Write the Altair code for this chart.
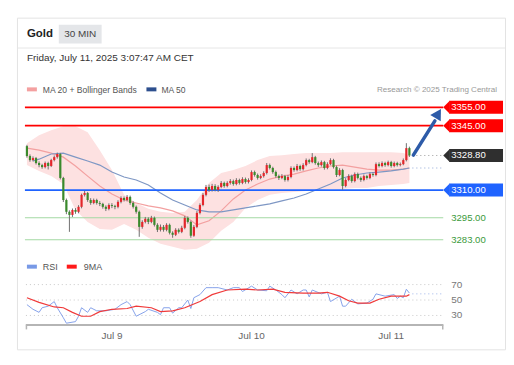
import altair as alt
import pandas as pd

# ---------------- data ----------------
first_open = 3333.9
close = [3328.5,3326.3,3327.4,3324.7,3323.6,3322.5,3324.7,3323.1,3326.3,3327.9,
 3329.6,3316.6,3304.6,3298.2,3296.5,3299.2,3298.2,3300.9,3307.4,3308.4,
 3304.6,3303.0,3304.6,3303.0,3302.5,3300.9,3299.8,3301.9,3301.4,3300.9,
 3303.6,3305.7,3304.6,3306.3,3303.0,3300.9,3298.2,3290.0,3292.7,3294.4,
 3292.7,3294.9,3291.1,3288.4,3290.0,3288.4,3291.1,3286.8,3285.7,3288.4,
 3287.3,3289.5,3294.9,3292.7,3285.2,3290.0,3297.6,3301.9,3307.4,3311.7,
 3310.1,3312.2,3310.1,3311.7,3313.9,3312.2,3313.9,3314.9,3313.3,3315.5,
 3313.9,3316.0,3314.4,3315.5,3319.8,3318.2,3316.6,3317.6,3319.3,3323.6,
 3322.0,3319.8,3317.6,3316.6,3317.6,3315.5,3317.1,3322.0,3320.9,3323.1,
 3321.4,3323.6,3326.3,3325.2,3327.9,3324.7,3323.6,3325.2,3322.0,3324.1,
 3326.3,3322.5,3318.2,3320.9,3312.2,3315.5,3317.6,3314.9,3318.7,3316.6,
 3315.5,3317.6,3316.6,3318.7,3318.2,3324.1,3323.1,3324.7,3323.6,3325.2,
 3323.1,3324.7,3323.6,3324.1,3326.3,3332.8,3328.8]
high = [3334.6,3329.4,3328.3,3328.0,3325.6,3324.3,3325.5,3325.4,3327.0,3328.8,
 3330.4,3330.2,3317.2,3305.4,3299.0,3300.0,3300.2,3301.8,3308.1,3309.5,
 3309.0,3305.6,3305.4,3305.3,3304.0,3303.1,3301.7,3302.8,3302.9,3302.0,
 3304.5,3306.6,3306.5,3307.3,3307.0,3303.9,3301.6,3298.9,3293.6,3295.4,
 3295.2,3296.0,3295.6,3292.0,3291.3,3291.0,3292.0,3291.8,3287.6,3289.3,
 3289.2,3290.6,3295.9,3295.7,3293.4,3291.0,3298.6,3302.8,3308.4,3312.8,
 3313.0,3313.4,3313.2,3312.6,3314.9,3314.6,3314.8,3316.0,3315.7,3316.5,
 3316.2,3317.0,3316.8,3316.4,3320.7,3320.6,3319.0,3318.6,3320.2,3324.7,
 3324.4,3322.7,3320.6,3318.4,3318.7,3318.3,3318.2,3322.9,3322.8,3324.2,
 3323.8,3324.6,3327.2,3327.0,3330.1,3328.6,3325.5,3326.1,3325.9,3325.1,
 3327.3,3327.0,3323.3,3321.9,3321.6,3316.5,3318.6,3318.4,3319.6,3319.5,
 3317.4,3318.5,3318.3,3319.6,3319.5,3325.0,3325.1,3325.6,3325.4,3326.0,
 3325.9,3325.5,3325.4,3325.0,3327.2,3335.5,3333.6]
low = [3327.6,3325.4,3325.6,3323.9,3322.4,3321.6,3321.8,3321.2,3322.5,3325.6,
 3327.1,3315.8,3303.5,3296.9,3287.3,3295.4,3297.1,3297.4,3300.1,3306.5,
 3303.6,3302.0,3302.3,3302.1,3301.3,3299.9,3298.6,3299.0,3300.2,3299.6,
 3300.1,3302.8,3303.8,3303.9,3302.0,3300.0,3297.2,3284.6,3289.0,3291.9,
 3291.5,3292.0,3290.2,3287.2,3287.5,3287.4,3287.6,3285.9,3284.1,3285.0,
 3286.4,3286.6,3288.7,3291.8,3284.1,3284.6,3289.3,3296.8,3301.2,3306.6,
 3309.0,3309.2,3309.3,3309.0,3311.0,3311.3,3311.5,3313.0,3312.4,3312.6,
 3313.0,3313.2,3313.5,3313.6,3314.8,3317.3,3315.7,3315.9,3316.8,3318.5,
 3321.2,3318.9,3316.7,3315.5,3315.9,3314.6,3314.7,3316.4,3320.0,3320.2,
 3320.5,3320.6,3322.9,3324.3,3324.6,3323.8,3322.6,3322.8,3321.1,3321.3,
 3323.5,3321.7,3317.1,3317.5,3310.1,3311.5,3314.8,3314.0,3314.2,3315.8,
 3314.5,3314.8,3315.7,3315.9,3317.3,3317.5,3322.3,3322.4,3322.7,3322.9,
 3322.2,3322.4,3322.8,3322.9,3323.5,3325.6,3328.0]

band_i = [0,4,8,12,16,20,24,28,32,36,40,44,48,52,56,60,64,68,72,76,80,84,88,92,96,100,104,108,112,116,120,124,126]
bb_up = [3335.5,3339.8,3342.5,3344.7,3344.7,3341.5,3331.7,3320.9,3307.4,3303.0,3299.8,3298.2,3297.6,3298.2,3304.6,3313.9,3319.3,3320.9,3323.1,3326.3,3328.5,3329.0,3329.6,3330.1,3330.1,3330.1,3330.6,3330.6,3330.6,3330.6,3330.6,3330.1,3329.0]
bb_lo = [3323.6,3320.4,3317.6,3313.3,3299.2,3292.7,3288.9,3288.4,3291.6,3288.4,3284.1,3280.8,3279.2,3277.6,3278.1,3281.4,3287.9,3292.7,3300.3,3304.6,3307.4,3308.4,3309.0,3309.5,3310.1,3310.6,3310.6,3311.1,3311.1,3312.2,3312.8,3313.3,3313.9]
ma20 = [3332.8,3331.7,3330.1,3327.9,3323.1,3317.6,3312.2,3307.9,3304.6,3303.0,3301.4,3300.3,3298.7,3296.0,3291.1,3293.3,3298.7,3305.2,3310.1,3313.3,3316.0,3317.6,3318.7,3320.4,3322.0,3323.1,3323.6,3322.5,3321.4,3320.9,3320.9,3321.4,3322.0]
ma50_i = [2,4,8,12,16,20,24,28,32,36,40,44,48,52,56,60,64,68,72,76,80,84,88,92,96,100,104,108,112,116,120,124,126]
ma50 = [3325.8,3326.8,3329.6,3330.1,3327.9,3325.8,3323.6,3319.8,3317.1,3315.5,3312.8,3308.4,3304.6,3301.9,3299.2,3298.2,3298.2,3299.2,3300.3,3301.4,3302.5,3304.1,3305.7,3307.9,3310.6,3313.3,3316.6,3318.2,3319.3,3319.8,3320.4,3321.4,3322.0]

rsi_i = [0,2,4,5,7,9,10,12,13,16,17,18,20,21,23,26,29,31,33,34,36,39,40,43,44,45,47,48,50,51,53,54,55,57,59,61,63,66,68,70,71,74,76,79,80,82,84,85,87,89,91,92,93,94,97,99,100,103,104,105,107,109,112,114,115,118,121,122,123,124,125,126]
rsi_v = [44,38,34,40,42,48,40,27,20,22,29,40,34,40,36,36,38,44,48,44,29,35,38,34,31,40,40,33,40,40,50,39,53,57,66,66,66,63,66,66,61,68,63,62,68,63,57,53,63,58,63,63,54,63,58,60,48,55,42,42,51,45,46,51,58,55,57,52,55,53,64,59]
ma9_i = [0,4,9,12,15,18,21,24,28,33,36,41,44,48,52,57,61,66,72,76,81,85,91,96,99,103,106,109,113,116,120,125,126]
ma9_v = [53,47,41,40,34,29,29,35,38,39,42,40,35,36,40,48,57,63,64,63,64,60,59,59,60,55,49,46,46,51,55,55,57]

level_price = [3355.0, 3345.0, 3310.0, 3295.0, 3283.0]
level_color = ["#ff0000", "#ff0000", "#1f63ff", "#a3d9a3", "#a3d9a3"]
level_width = [1.8, 1.8, 1.6, 1.1, 1.1]
box_price = [3355.0, 3345.0, 3328.8, 3310.0]
box_color = ["#ff0000", "#ff0000", "#2f2f2f", "#1f63ff"]
green_price = [3295.0, 3283.0]
rsi_levels = [70, 50, 30]
day_labels = ["Jul 9", "Jul 10", "Jul 11"]
day_index = [28, 74, 120]
last_price = 3328.8
ma_last = 3322.0
rsi_last = 58

# ---------------- scales ----------------
XS = alt.Scale(domain=[0, 126], range=[19, 403], zero=False, nice=False)
PY = alt.Scale(domain=[3283, 3355], range=[232, 99], zero=False, nice=False)
RY = alt.Scale(domain=[30, 70], range=[308, 277], zero=False, nice=False)
FONT = "Liberation Sans"

opens = [first_open] + close[:-1]
cdf = pd.DataFrame({"i": list(range(len(close))), "open": opens, "close": close,
                    "high": high, "low": low})
bdf = pd.DataFrame({"i": band_i, "up": bb_up, "lo": bb_lo, "ma20": ma20})
m50 = pd.DataFrame({"i": ma50_i, "ma50": ma50})
rdf = pd.DataFrame({"i": rsi_i, "v": rsi_v})
mdf = pd.DataFrame({"i": ma9_i, "v": ma9_v})
one = pd.DataFrame({"a": [0]})


def X(f="i"):
    return alt.X(f + ":Q", scale=XS, axis=None)


def txt(s, x, y, size=11, color="#333", weight="normal", align="left"):
    return alt.Chart(one).mark_text(text=s, fontSize=size, color=color, fontWeight=weight,
                                    align=align, baseline="middle", font=FONT).encode(
        x=alt.value(x), y=alt.value(y))


def box(x1, x2, y1, y2, fill, stroke=None):
    kw = dict(fill=fill)
    if stroke:
        kw.update(stroke=stroke, strokeWidth=1)
    return alt.Chart(one).mark_rect(**kw).encode(
        x=alt.value(x1), x2=alt.value(x2), y=alt.value(y1), y2=alt.value(y2))


layers = []
# card
layers.append(box(9.5, 499.5, 9.5, 342.5, "#ffffff", "#e3e3e3"))
layers.append(alt.Chart(one).mark_rule(color="#e6e6e6", strokeWidth=1).encode(
    x=alt.value(10), x2=alt.value(499), y=alt.value(39.5)))
layers.append(box(51, 94, 16, 35, "#e4e6e9"))
layers.append(txt("Gold", 19, 25.5, 11.5, "#222", "bold"))
layers.append(txt("30 MIN", 72.5, 25.5, 10, "#444", align="center"))
layers.append(txt("Friday, July 11, 2025 3:07:47 AM CET", 19, 50, 10, "#333"))
# legend
layers.append(box(19, 29, 79, 83, "#f4a0a0"))
layers.append(txt("MA 20 + Bollinger Bands", 35, 81.5, 8.6, "#555"))
layers.append(box(139, 149, 79, 83, "#2d4f8e"))
layers.append(txt("MA 50", 154, 81.5, 8.6, "#555"))
layers.append(txt("Research \u00a9 2025 Trading Central", 491, 82, 8.1, "#999", align="right"))

# bollinger band + MAs
layers.append(alt.Chart(bdf).mark_area(color="#fde1e1", opacity=1).encode(
    x=X(), y=alt.Y("up:Q", scale=PY, axis=None), y2="lo:Q"))
layers.append(alt.Chart(bdf).mark_line(color="#f3a0a0", strokeWidth=1.2).encode(
    x=X(), y=alt.Y("ma20:Q", scale=PY, axis=None)))
layers.append(alt.Chart(m50).mark_line(color="#7e97c4", strokeWidth=1.2).encode(
    x=X(), y=alt.Y("ma50:Q", scale=PY, axis=None)))

# level lines
ldf = pd.DataFrame({"p": level_price, "c": level_color, "w": level_width})
layers.append(alt.Chart(ldf).mark_rule().encode(
    y=alt.Y("p:Q", scale=PY, axis=None), x=alt.value(17), x2=alt.value(437),
    color=alt.Color("c:N", scale=None), strokeWidth=alt.StrokeWidth("w:Q", scale=None)))

# dotted indicator lines
layers.append(alt.Chart(pd.DataFrame({"p": [last_price]})).mark_rule(
    color="#999", strokeDash=[1, 3], strokeWidth=1).encode(
    y=alt.Y("p:Q", scale=PY, axis=None), x=alt.value(406), x2=alt.value(437)))
layers.append(alt.Chart(pd.DataFrame({"p": [ma_last]})).mark_rule(
    color="#8fa6d6", strokeDash=[1, 3], strokeWidth=1).encode(
    y=alt.Y("p:Q", scale=PY, axis=None), x=alt.value(406), x2=alt.value(437)))

# candles
layers.append(alt.Chart(cdf).mark_rule(color="#707070", strokeWidth=1).encode(
    x=X(), y=alt.Y("low:Q", scale=PY, axis=None), y2="high:Q"))
layers.append(alt.Chart(cdf).mark_rule(strokeWidth=2.2).encode(
    x=X(), y=alt.Y("open:Q", scale=PY, axis=None), y2="close:Q",
    color=alt.condition("datum.close > datum.open", alt.value("#e4262b"), alt.value("#3a8a2c"))))

# label boxes
bxd = pd.DataFrame({"p": box_price, "c": box_color,
                    "t": ["%.2f" % v for v in box_price]})
layers.append(alt.Chart(bxd).mark_rule(strokeWidth=13, strokeCap="butt").encode(
    y=alt.Y("p:Q", scale=PY, axis=None), x=alt.value(443), x2=alt.value(497),
    color=alt.Color("c:N", scale=None)))
layers.append(alt.Chart(bxd).mark_point(shape="M 1 -1 L 0 0 L 1 1 Z", size=169,
                                        filled=True, opacity=1).encode(
    y=alt.Y("p:Q", scale=PY, axis=None), x=alt.value(437),
    color=alt.Color("c:N", scale=None)))
layers.append(alt.Chart(bxd).mark_text(color="white", fontSize=9.6, align="left",
                                       baseline="middle", font=FONT).encode(
    y=alt.Y("p:Q", scale=PY, axis=None), x=alt.value(445), text="t:N"))
gdf = pd.DataFrame({"p": green_price, "t": ["%.2f" % v for v in green_price]})
layers.append(alt.Chart(gdf).mark_text(color="#3a9a3a", fontSize=9.6, align="left",
                                       baseline="middle", font=FONT).encode(
    y=alt.Y("p:Q", scale=PY, axis=None), x=alt.value(445), text="t:N"))

# arrow
adf = pd.DataFrame({"i": [127.3], "p": [3329.0], "i2": [134.4], "p2": [3347.6]})
layers.append(alt.Chart(adf).mark_rule(color="#2d5ba8", strokeWidth=3.5, strokeCap="round").encode(
    x=X(), y=alt.Y("p:Q", scale=PY, axis=None), x2="i2:Q", y2="p2:Q"))
hdf = pd.DataFrame({"i": [135.5], "p": [3351.6]})
layers.append(alt.Chart(hdf).mark_point(shape="triangle-up", size=150, angle=31,
                                        filled=True, opacity=1, color="#2d5ba8").encode(
    x=X(), y=alt.Y("p:Q", scale=PY, axis=None)))

# RSI panel
layers.append(box(19, 29, 257, 261, "#7899e6"))
layers.append(txt("RSI", 35, 259.5, 9, "#555"))
layers.append(box(59, 69, 257, 261, "#ff1a1a"))
layers.append(txt("9MA", 76, 259.5, 9, "#555"))
rl = pd.DataFrame({"v": rsi_levels, "t": [str(v) for v in rsi_levels]})
layers.append(alt.Chart(rl).mark_rule(color="#c8c8c8", strokeDash=[1, 3], strokeWidth=1).encode(
    y=alt.Y("v:Q", scale=RY, axis=None), x=alt.value(18), x2=alt.value(437)))
layers.append(alt.Chart(rl).mark_text(color="#777", fontSize=10, align="left",
                                      baseline="middle", font=FONT).encode(
    y=alt.Y("v:Q", scale=RY, axis=None), x=alt.value(445), text="t:N"))
layers.append(alt.Chart(pd.DataFrame({"v": [rsi_last]})).mark_rule(
    color="#9db3ea", strokeDash=[1, 3], strokeWidth=1).encode(
    y=alt.Y("v:Q", scale=RY, axis=None), x=alt.value(406), x2=alt.value(437)))
layers.append(alt.Chart(rdf).mark_line(color="#86a2ea", strokeWidth=1).encode(
    x=X(), y=alt.Y("v:Q", scale=RY, axis=None)))
layers.append(alt.Chart(mdf).mark_line(color="#f03a3a", strokeWidth=1.2).encode(
    x=X(), y=alt.Y("v:Q", scale=RY, axis=None)))
# time axis
layers.append(alt.Chart(one).mark_rule(color="#b5b5b5", strokeWidth=2).encode(
    x=alt.value(18), x2=alt.value(437), y=alt.value(317.5)))
layers.append(alt.Chart(pd.DataFrame({"x": [18.5, 436.5]})).mark_rule(
    color="#b5b5b5", strokeWidth=1.5).encode(
    x=alt.X("x:Q", scale=None, axis=None), y=alt.value(317), y2=alt.value(322)))
ddf = pd.DataFrame({"i": day_index, "t": day_labels})
layers.append(alt.Chart(ddf).mark_text(color="#666", fontSize=10, align="center",
                                       baseline="middle", font=FONT).encode(
    x=X(), y=alt.value(329), text="t:N"))

chart = alt.layer(*layers).resolve_scale(x="independent", y="independent").properties(
    width=500, height=345, autosize=alt.AutoSizeParams(type="none"), padding=0
).configure_view(stroke=None)

chart.save("out.html", embed_options={"renderer": "svg", "actions": False})
